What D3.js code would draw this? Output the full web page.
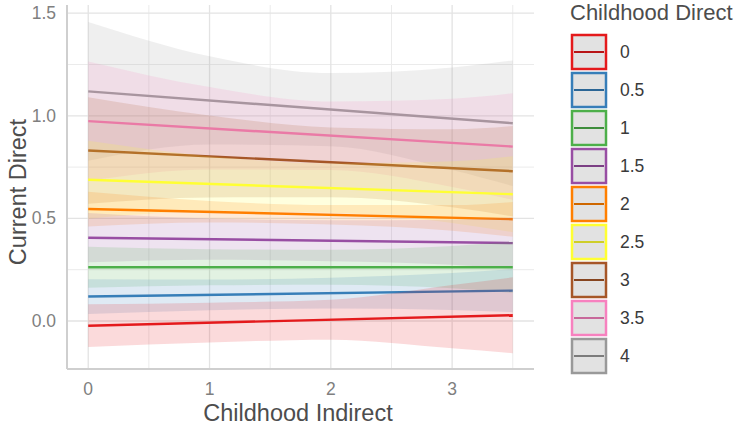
<!DOCTYPE html>
<html>
<head>
<meta charset="utf-8">
<script src="https://cdn.jsdelivr.net/npm/d3@7"></script>
<style>
    body { margin: 0; background: #fff; }
    svg { display: block; font-family: "Liberation Sans", Arial, sans-serif; }
</style>
</head>
<body>
<div id="chart"></div>
<script>
// Chart data

const groups = ['0', '0.5', '1', '1.5', '2', '2.5', '3', '3.5', '4'];
const colors = ['#e41a1c', '#377eb8', '#4daf4a', '#984ea3', '#ff7f00', '#ffff33', '#a65628', '#f781bf', '#999999'];

// fitted line value at x = 0 and at x = 3.5
const lineStart = [-0.023, 0.119, 0.262, 0.406, 0.546, 0.688, 0.831, 0.974, 1.119];
const lineEnd = [0.028, 0.148, 0.262, 0.380, 0.496, 0.618, 0.730, 0.850, 0.964];

// confidence band, sampled at these x positions
const bandX = [0, 1, 2, 3, 3.5];
const bandUpper = [
    [0.081, 0.089, 0.103, 0.175, 0.213],
    [0.204, 0.202, 0.211, 0.234, 0.253],
    [0.362, 0.350, 0.347, 0.365, 0.387],
    [0.526, 0.499, 0.491, 0.494, 0.505],
    [0.630, 0.585, 0.565, 0.565, 0.580],
    [0.878, 0.803, 0.768, 0.778, 0.803],
    [1.091, 1.002, 0.943, 0.934, 0.950],
    [1.265, 1.140, 1.070, 1.083, 1.110],
    [1.457, 1.290, 1.208, 1.236, 1.270]
];
const bandLower = [
    [-0.127, -0.105, -0.091, -0.133, -0.157],
    [0.034, 0.052, 0.061, 0.054, 0.043],
    [0.162, 0.174, 0.177, 0.159, 0.137],
    [0.286, 0.299, 0.291, 0.274, 0.255],
    [0.460, 0.480, 0.470, 0.440, 0.410],
    [0.498, 0.533, 0.528, 0.478, 0.433],
    [0.571, 0.602, 0.603, 0.554, 0.510],
    [0.683, 0.738, 0.736, 0.653, 0.590],
    [0.781, 0.860, 0.852, 0.736, 0.658]
];

const xTicks = [0, 1, 2, 3];
const xMinor = [0.5, 1.5, 2.5, 3.5];
const yTicks = [0, 0.5, 1, 1.5];
const yMinor = [0.25, 0.75, 1.25];

const width = 750;
const height = 426;
const panel = { left: 67, right: 534, top: 5, bottom: 369 };

const svg = d3.select('#chart')
    .append('svg')
    .attr('width', width)
    .attr('height', height);

const xScale = d3.scaleLinear()
    .domain([-0.175, 3.675])
    .range([panel.left, panel.right]);

const yScale = d3.scaleLinear()
    .domain([-0.234, 1.54])
    .range([panel.bottom, panel.top]);

// Grid lines (minor first, then major)
const grid = svg.append('g').attr('class', 'grid');

grid.selectAll('.x-minor')
    .data(xMinor)
    .enter()
    .append('line')
    .attr('x1', d => xScale(d))
    .attr('x2', d => xScale(d))
    .attr('y1', panel.top)
    .attr('y2', panel.bottom)
    .attr('stroke', '#ebebeb')
    .attr('stroke-width', 1);

grid.selectAll('.y-minor')
    .data(yMinor)
    .enter()
    .append('line')
    .attr('x1', panel.left)
    .attr('x2', panel.right)
    .attr('y1', d => yScale(d))
    .attr('y2', d => yScale(d))
    .attr('stroke', '#ebebeb')
    .attr('stroke-width', 1);

grid.selectAll('.x-major')
    .data(xTicks)
    .enter()
    .append('line')
    .attr('x1', d => xScale(d))
    .attr('x2', d => xScale(d))
    .attr('y1', panel.top)
    .attr('y2', panel.bottom)
    .attr('stroke', '#e3e3e3')
    .attr('stroke-width', 1.3);

grid.selectAll('.y-major')
    .data(yTicks)
    .enter()
    .append('line')
    .attr('x1', panel.left)
    .attr('x2', panel.right)
    .attr('y1', d => yScale(d))
    .attr('y2', d => yScale(d))
    .attr('stroke', '#e3e3e3')
    .attr('stroke-width', 1.3);

// Ribbons and fitted lines, last group drawn first
const area = d3.area()
    .x(d => xScale(d.x))
    .y0(d => yScale(d.lo))
    .y1(d => yScale(d.hi))
    .curve(d3.curveMonotoneX);

const line = d3.line()
    .x(d => xScale(d.x))
    .y(d => yScale(d.y));

const layers = svg.append('g').attr('class', 'smooths');

for (let i = groups.length - 1; i >= 0; i--) {
    const band = bandX.map((x, j) => ({ x: x, lo: bandLower[i][j], hi: bandUpper[i][j] }));
    layers.append('path')
        .datum(band)
        .attr('d', area)
        .attr('fill', colors[i])
        .attr('fill-opacity', 0.16);

    layers.append('path')
        .datum([{ x: 0, y: lineStart[i] }, { x: 3.5, y: lineEnd[i] }])
        .attr('d', line)
        .attr('fill', 'none')
        .attr('stroke', colors[i])
        .attr('stroke-width', 2.4);
}

// Axis lines
svg.append('line')
    .attr('x1', panel.left)
    .attr('x2', panel.left)
    .attr('y1', panel.top)
    .attr('y2', panel.bottom)
    .attr('stroke', '#cfcfcf')
    .attr('stroke-width', 2);

svg.append('line')
    .attr('x1', panel.left)
    .attr('x2', panel.right)
    .attr('y1', panel.bottom)
    .attr('y2', panel.bottom)
    .attr('stroke', '#cfcfcf')
    .attr('stroke-width', 2);

// Tick labels
svg.selectAll('.x-label')
    .data(xTicks)
    .enter()
    .append('text')
    .attr('x', d => xScale(d))
    .attr('y', 395)
    .attr('text-anchor', 'middle')
    .attr('font-size', '17.5px')
    .attr('fill', '#7f7f7f')
    .text(d => d);

svg.selectAll('.y-label')
    .data(yTicks)
    .enter()
    .append('text')
    .attr('x', 56)
    .attr('y', d => yScale(d) + 6)
    .attr('text-anchor', 'end')
    .attr('font-size', '17.5px')
    .attr('fill', '#7f7f7f')
    .text(d => d3.format('.1f')(d));

// Axis titles
svg.append('text')
    .attr('x', 298)
    .attr('y', 421)
    .attr('text-anchor', 'middle')
    .attr('font-size', '23.5px')
    .attr('fill', '#4d4d4d')
    .text('Childhood Indirect');

svg.append('text')
    .attr('transform', 'translate(26, 192) rotate(-90)')
    .attr('text-anchor', 'middle')
    .attr('font-size', '23.5px')
    .attr('fill', '#4d4d4d')
    .text('Current Direct');

// Legend
const legend = svg.append('g').attr('transform', 'translate(571, 0)');

legend.append('text')
    .attr('x', -1)
    .attr('y', 20)
    .attr('font-size', '22px')
    .attr('fill', '#4d4d4d')
    .text('Childhood Direct');

const keys = legend.selectAll('.key')
    .data(groups)
    .enter()
    .append('g')
    .attr('transform', (d, i) => `translate(0, ${34 + i * 38})`);

keys.append('rect')
    .attr('x', 1)
    .attr('y', 1)
    .attr('width', 34)
    .attr('height', 34)
    .attr('fill', '#e2e2e2')
    .attr('stroke', (d, i) => colors[i])
    .attr('stroke-width', 2.5);

keys.append('line')
    .attr('x1', 3)
    .attr('x2', 33)
    .attr('y1', 18)
    .attr('y2', 18)
    .attr('stroke', (d, i) => d3.color(colors[i]).darker(0.6))
    .attr('stroke-width', 2);

keys.append('text')
    .attr('x', 49)
    .attr('y', 24)
    .attr('font-size', '17.5px')
    .attr('fill', '#3a3a3a')
    .text(d => d);
</script>
</body>
</html>
